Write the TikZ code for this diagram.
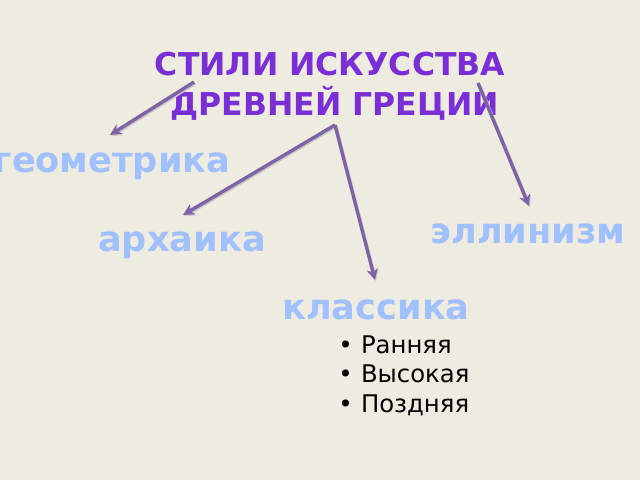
\documentclass[tikz,border=0pt]{standalone}
\usepackage{fontspec}
\setmainfont{DejaVu Sans}
\usetikzlibrary{arrows.meta}
\definecolor{slidebg}{HTML}{EEEBE0}
\definecolor{titlepurple}{HTML}{7A2FD6}
\definecolor{styleblue}{HTML}{A0C0FF}
\definecolor{arrowpurple}{HTML}{7F62A6}
\tikzset{
  title/.style={text=titlepurple,font=\fontsize{22.4}{28}\selectfont\bfseries,anchor=base,inner sep=0pt},
  period/.style={text=styleblue,font=\fontsize{25}{30}\selectfont\bfseries,anchor=base,inner sep=0pt},
  link/.style={arrowpurple,line width=2.4pt,-{Stealth[length=8pt,width=8pt]},
    preaction={draw=black!22,line width=2.4pt,-{Stealth[length=8pt,width=8pt]},transform canvas={shift={(0.7pt,-0.9pt)}}}}
}
\begin{document}
\begin{tikzpicture}[x=0.025cm,y=-0.025cm]
		\fill[slidebg] (0,0) rectangle (640,480);
		\useasboundingbox (0,0) rectangle (640,480);
		% heading
		\node[title] (title1) at (330,75) {СТИЛИ ИСКУССТВА};
		\node[title] (title2) at (335,115) {ДРЕВНЕЙ ГРЕЦИИ};
		% periods
		\node[period] (geom) at (112,172) {геометрика};
		\node[period] (arch) at (182,251) {архаика};
		\node[period] (hell) at (528,243) {эллинизм};
		\node[period] (class) at (376,319) {классика};
		\node[anchor=base west,inner sep=0pt,font=\fontsize{17.3}{21.3}\selectfont] (sub) at (338,353)
			{\begin{tabular}[t]{@{}l@{\hspace{6pt}}l@{}}
			• & Ранняя\\
			• & Высокая\\
			• & Поздняя
			\end{tabular}};
		% arrow ends
		\coordinate (geomStart) at (194,82);
		\coordinate (geomEnd) at (110,135);
		\coordinate (apex) at (335,125);
		\coordinate (archEnd) at (183,215);
		\coordinate (classEnd) at (375,280);
		\coordinate (hellStart) at (478,83);
		\coordinate (hellEnd) at (529,206);
		\draw[link] (geomStart) -- (geomEnd);
		\draw[link] (apex) -- (archEnd);
		\draw[link] (apex) -- (classEnd);
		\draw[link] (hellStart) -- (hellEnd);
\end{tikzpicture}
\end{document}
